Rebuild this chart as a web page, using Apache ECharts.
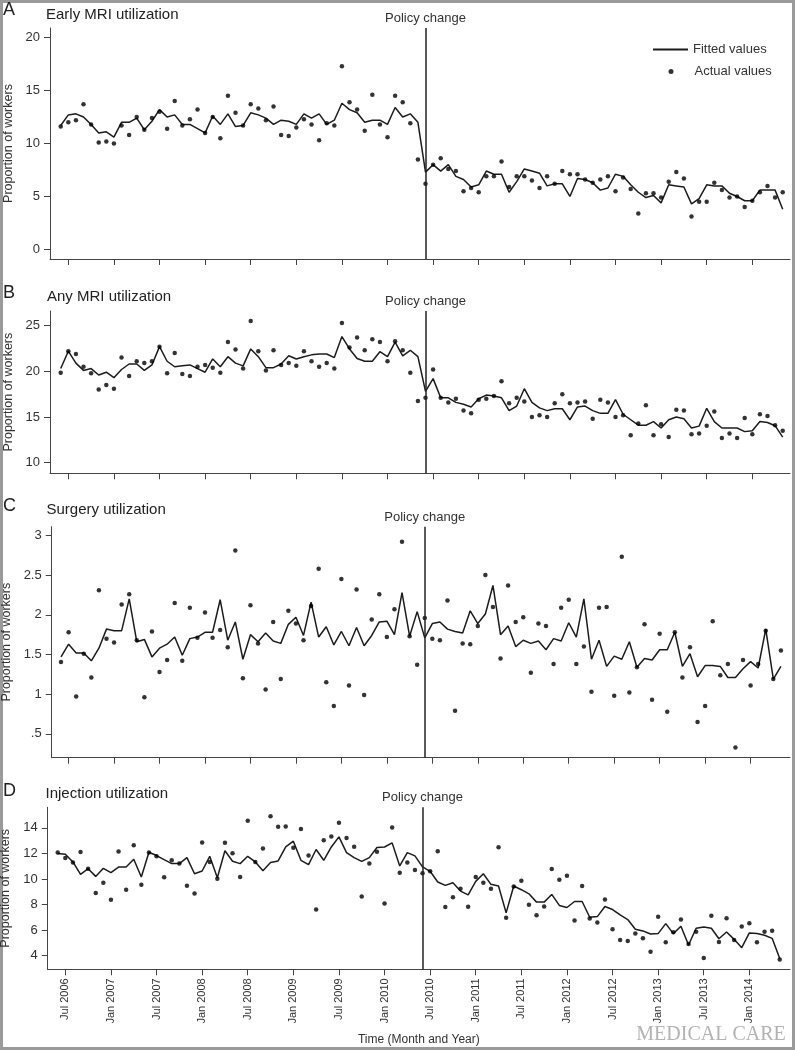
<!DOCTYPE html>
<html><head><meta charset="utf-8">
<script src="https://cdn.jsdelivr.net/npm/echarts@6/dist/echarts.min.js"></script>
<style>html,body{margin:0;padding:0;background:#fff}#c{width:795px;height:1050px}</style>
</head><body><div id="c"></div>
<script>
// Months (categories), index 0 = Jun 2006
const months = [
'Jun 2006','Jul 2006','Aug 2006','Sep 2006','Oct 2006','Nov 2006','Dec 2006',
'Jan 2007','Feb 2007','Mar 2007','Apr 2007','May 2007','Jun 2007','Jul 2007','Aug 2007','Sep 2007','Oct 2007','Nov 2007','Dec 2007',
'Jan 2008','Feb 2008','Mar 2008','Apr 2008','May 2008','Jun 2008','Jul 2008','Aug 2008','Sep 2008','Oct 2008','Nov 2008','Dec 2008',
'Jan 2009','Feb 2009','Mar 2009','Apr 2009','May 2009','Jun 2009','Jul 2009','Aug 2009','Sep 2009','Oct 2009','Nov 2009','Dec 2009',
'Jan 2010','Feb 2010','Mar 2010','Apr 2010','May 2010','Jun 2010','Jul 2010','Aug 2010','Sep 2010','Oct 2010','Nov 2010','Dec 2010',
'Jan 2011','Feb 2011','Mar 2011','Apr 2011','May 2011','Jun 2011','Jul 2011','Aug 2011','Sep 2011','Oct 2011','Nov 2011','Dec 2011',
'Jan 2012','Feb 2012','Mar 2012','Apr 2012','May 2012','Jun 2012','Jul 2012','Aug 2012','Sep 2012','Oct 2012','Nov 2012','Dec 2012',
'Jan 2013','Feb 2013','Mar 2013','Apr 2013','May 2013','Jun 2013','Jul 2013','Aug 2013','Sep 2013','Oct 2013','Nov 2013','Dec 2013',
'Jan 2014','Feb 2014','Mar 2014','Apr 2014','May 2014'];

const tickLabels = ['Jul 2006','Jan 2007','Jul 2007','Jan 2008','Jul 2008','Jan 2009','Jul 2009','Jan 2010',
'Jul 2010','Jan 2011','Jul 2011','Jan 2012','Jul 2012','Jan 2013','Jul 2013','Jan 2014'];
const policyMonth = 'Jun 2010';

// A: Early MRI utilization
const actA = [11.6,12.0,12.2,13.7,11.8,10.1,10.2,10.0,11.7,10.8,
12.5,11.3,12.4,13.0,11.4,14.0,11.7,12.3,13.2,11.0,
12.5,10.5,14.5,12.9,11.7,13.7,13.3,12.2,13.5,10.8,
10.7,11.5,12.3,11.8,10.3,11.9,11.7,17.3,13.9,13.2,
11.2,14.6,11.8,10.6,14.5,13.9,11.9,8.5,6.2,8.0,
8.6,7.6,7.4,5.5,5.8,5.4,6.9,6.9,8.3,5.9,
6.9,6.9,6.5,5.8,6.9,6.2,7.4,7.1,7.1,6.6,
6.3,6.6,6.9,5.5,6.8,5.7,3.4,5.3,5.3,4.9,
6.4,7.3,6.7,3.1,4.5,4.5,6.3,5.6,4.9,5.0,
4.0,4.6,5.4,6.0,4.9,5.4];
const fitA = [11.7,12.7,12.8,12.5,11.8,11.0,11.1,10.6,12.0,12.0,
12.4,11.3,12.1,13.2,12.5,12.7,11.8,11.8,11.4,11.0,
12.6,11.8,12.8,11.6,11.7,12.9,12.7,12.4,11.8,12.2,
12.1,11.8,12.8,12.4,12.8,11.8,12.2,13.8,13.2,12.9,
12.0,12.2,12.2,11.8,13.4,12.5,12.8,12.0,7.3,8.0,
7.4,8.0,6.9,6.6,5.9,6.1,7.4,7.1,7.1,5.4,
6.4,7.6,7.4,7.2,6.0,6.2,6.2,5.0,6.7,6.6,
6.3,5.6,5.8,7.1,6.9,6.1,5.4,4.9,5.1,4.4,
6.1,6.0,5.9,4.3,4.8,6.1,6.0,6.0,5.3,5.0,
4.6,4.6,5.6,5.6,5.6,3.8];

// B: Any MRI utilization
const actB = [19.85,22.2,21.9,20.5,19.8,18.0,18.5,18.1,21.5,19.5,
21.1,20.9,21.1,22.7,19.8,22.0,19.7,19.5,20.5,20.7,
20.4,19.85,23.2,22.4,20.3,25.5,22.2,20.1,22.3,20.7,
20.9,20.6,22.2,21.1,20.5,20.9,20.3,25.3,22.6,23.7,
22.3,23.5,23.2,21.1,23.3,22.3,19.85,16.75,17.1,20.2,
17.1,16.6,17.0,15.7,15.4,16.9,17.0,17.3,18.9,16.5,
17.1,16.7,15.0,15.2,15.0,16.5,17.5,16.5,16.6,16.7,
14.8,16.9,16.6,15.0,15.2,13.0,14.3,16.3,13.0,14.2,
12.8,15.8,15.7,13.1,13.2,14.05,15.6,12.7,13.2,12.7,
14.9,13.1,15.3,15.1,14.1,13.5];
const fitB = [20.3,22.2,20.9,20.1,20.3,19.6,19.9,19.3,20.2,20.8,
20.8,20.1,20.7,22.7,21.1,20.5,20.6,20.7,20.3,19.9,
21.35,20.5,21.6,20.9,20.6,22.45,21.6,20.4,20.4,20.8,
21.7,21.35,21.6,21.8,21.9,21.9,21.5,23.8,22.45,21.4,
21.1,21.1,22.15,21.6,23.2,21.7,22.3,21.6,17.8,19.2,
17.1,17.1,16.6,16.4,16.1,17.0,17.4,17.3,17.1,15.7,
16.2,18.1,16.6,16.0,15.7,15.9,15.9,14.7,16.1,16.2,
15.7,15.4,15.4,16.9,15.3,14.7,14.1,14.1,14.5,13.8,
14.7,15.0,14.8,13.8,14.0,15.95,14.5,13.8,13.8,13.8,
13.4,13.5,14.5,14.4,14.05,12.8];

// C: Surgery utilization
const actC = [1.405,1.78,0.97,1.51,1.21,2.31,1.70,1.65,2.13,2.26,
1.68,0.96,1.79,1.28,1.43,2.15,1.42,2.09,1.71,2.03,
1.71,1.81,1.59,2.81,1.20,2.12,1.64,1.06,1.91,1.19,
2.05,1.89,1.68,2.11,2.58,1.15,0.85,2.45,1.11,2.32,
0.99,1.94,2.26,1.72,2.07,2.92,1.73,1.37,1.96,1.70,
1.68,2.18,0.79,1.64,1.63,1.86,2.50,2.10,1.45,2.37,
1.91,1.97,1.27,1.89,1.86,1.38,2.09,2.19,1.38,1.60,
1.03,2.09,2.10,0.98,2.73,1.02,1.34,1.88,0.93,1.76,
0.78,1.78,1.21,1.59,0.65,0.85,1.92,1.24,1.38,0.33,
1.43,1.11,1.38,1.80,1.19,1.55];
const fitC = [1.47,1.63,1.52,1.52,1.42,1.58,1.82,1.80,1.80,2.20,
1.66,1.69,1.47,1.58,1.63,1.72,1.49,1.70,1.72,1.78,
1.78,2.19,1.68,1.91,1.44,1.75,1.66,1.77,1.67,1.64,
1.88,1.97,1.74,2.16,1.72,1.85,1.62,1.79,1.61,1.84,
1.61,1.74,1.91,1.92,1.75,2.28,1.73,2.04,1.71,1.89,
1.91,1.82,1.79,1.77,2.05,1.89,2.01,2.37,1.75,1.86,
1.60,1.68,1.64,1.67,1.56,1.70,1.67,1.90,1.72,2.20,
1.44,1.68,1.35,1.48,1.44,1.66,1.34,1.45,1.43,1.56,
1.56,1.78,1.35,1.51,1.22,1.36,1.36,1.35,1.21,1.21,
1.32,1.41,1.33,1.82,1.19,1.35];

// D: Injection utilization
const actD = [12.06,11.64,11.28,12.1,10.8,8.9,9.7,8.37,12.14,9.16,
12.64,9.55,12.06,11.77,10.13,11.46,11.2,9.47,8.87,12.85,
11.33,10.02,12.82,12.0,10.15,14.55,11.33,12.38,14.9,14.08,
14.1,12.43,13.9,11.83,7.61,13.03,13.32,14.39,13.21,12.51,
8.63,11.2,12.12,8.08,14.03,10.49,11.28,10.7,10.44,10.6,
12.17,7.8,8.58,9.24,7.82,10.15,9.71,9.24,12.48,6.96,
9.42,9.86,7.98,7.17,7.85,10.78,9.94,10.26,6.75,9.45,
6.91,6.59,8.4,6.07,5.23,5.15,5.73,5.36,4.31,7.04,
5.05,5.84,6.84,4.92,5.88,3.82,7.12,5.07,6.93,5.23,
6.28,6.54,5.05,5.88,5.96,3.71];
const fitD = [11.98,11.93,11.33,10.36,10.8,10.2,10.83,10.5,10.93,10.93,
11.54,10.15,12.09,11.83,11.51,11.2,11.2,11.67,10.41,10.62,
11.77,10.1,12.2,11.38,11.2,11.77,11.33,10.65,11.28,11.41,
12.5,12.95,11.46,11.12,12.3,11.46,12.5,13.29,12.06,11.67,
11.38,11.67,12.46,12.5,12.82,11.02,12.06,11.8,10.94,10.6,
9.76,9.5,9.71,9.05,8.76,9.81,10.41,9.58,9.45,7.35,
9.45,9.16,8.84,8.19,8.19,8.79,7.93,7.77,8.24,8.24,
7.01,7.06,7.85,7.61,7.19,6.83,6.07,5.94,5.7,5.73,
6.51,5.73,6.3,4.84,6.15,6.25,6.15,5.33,5.86,5.28,
4.63,5.78,5.73,5.6,5.36,3.79];

const yTicksA = [0,5,10,15,20];
const yTicksB = [10,15,20,25];
const yTicksC = [0.5,1,1.5,2,2.5,3];
const yTicksD = [4,6,8,10,12,14];

// ---------- layout ----------
const FONT = '"Liberation Sans", Arial, Helvetica, sans-serif';
const TXT = '#333';
const AX = '#444';
const tickPos = tickLabels.map(l => months.indexOf(l));
const policyIdx = months.indexOf(policyMonth);

const panels = [
  {letter:'A', title:'Early MRI utilization', fit:fitA, act:actA, yTicks:yTicksA, yMin:-0.9, yMax:20.9,
   grid:{left:50, top:28, width:740, height:231}, xMin:-1.41, xMax:95.96, letterY:10.5, titleY:14.5, titleX:46},
  {letter:'B', title:'Any MRI utilization', fit:fitB, act:actB, yTicks:yTicksB, yMin:8.84, yMax:26.6,
   grid:{left:50, top:311, width:740, height:162.3}, xMin:-1.41, xMax:95.96, letterY:293.5, titleY:296.5, titleX:47},
  {letter:'C', title:'Surgery utilization', fit:fitC, act:actC, yTicks:yTicksC, yMin:0.2, yMax:3.11,
   grid:{left:51.7, top:526.7, width:738.3, height:231}, xMin:-1.23, xMax:96.2, letterY:506, titleY:510, titleX:46.5},
  {letter:'D', title:'Injection utilization', fit:fitD, act:actD, yTicks:yTicksD, yMin:2.94, yMax:15.6,
   grid:{left:47.7, top:807.3, width:742.3, height:162}, xMin:-1.32, xMax:96.35, letterY:791.5, titleY:794, titleX:45.5}
];

const grids = [], xAxes = [], yAxes = [], series = [], graphics = [];
graphics.push({type:'rect', silent:true, shape:{x:1.5, y:1.5, width:792, height:1047},
  style:{fill:'none', stroke:'#9a9a9a', lineWidth:3}});

panels.forEach((p, k) => {
  grids.push(Object.assign({containLabel:false, outerBoundsMode:'none'}, p.grid));
  const last = k === panels.length - 1;
  xAxes.push({
    type:'value', gridIndex:k, min:p.xMin, max:p.xMax,
    axisLine:{show:true, onZero:false, lineStyle:{color:AX, width:1}},
    axisTick:{show:true, length:6, customValues:tickPos, lineStyle:{color:AX, width:1}},
    axisLabel:{show:last, customValues:tickPos, formatter:v => months[Math.round(v)],
      rotate:90, margin:9, fontSize:11, color:TXT, fontFamily:FONT},
    splitLine:{show:false},
    name: last ? 'Time (Month and Year)' : '', nameLocation:'middle', nameGap:64,
    nameTextStyle:{fontSize:12, color:TXT, fontFamily:FONT}
  });
  yAxes.push({
    type:'value', gridIndex:k, min:p.yMin, max:p.yMax,
    axisLine:{show:true, onZero:false, lineStyle:{color:AX, width:1}},
    axisTick:{show:true, length:6, customValues:p.yTicks, lineStyle:{color:AX, width:1}},
    axisLabel:{customValues:p.yTicks, margin:10, fontSize:13, color:TXT, fontFamily:FONT,
      formatter:v => (v > 0 && v < 1) ? String(v).replace(/^0/, '') : String(v)},
    splitLine:{show:false},
    name:'Proportion of workers', nameLocation:'middle', nameGap:31,
    nameTextStyle:{fontSize:12.5, color:TXT, fontFamily:FONT}
  });
  series.push({
    type:'line', name:'Fitted values', xAxisIndex:k, yAxisIndex:k,
    data:p.fit.map((v, i) => [i, v]), showSymbol:false, symbol:'none',
    lineStyle:{color:'#1c1c1c', width:1.5}, itemStyle:{color:'#1c1c1c'}, z:2,
    markLine:{silent:true, symbol:['none','none'], animation:false,
      lineStyle:{color:'#222', width:1.5, type:'solid'},
      label:{show:true, position:'end', formatter:'Policy change', distance:3,
        fontSize:13, color:TXT, fontFamily:FONT},
      emphasis:{disabled:true},
      data:[{xAxis:policyIdx}]}
  });
  series.push({
    type:'scatter', name:'Actual values', xAxisIndex:k, yAxisIndex:k,
    data:p.act.map((v, i) => [i, v]), symbolSize:4.5, itemStyle:{color:'#000'}, z:3
  });
  graphics.push({type:'text', x:3, y:p.letterY, silent:true,
    style:{text:p.letter, fontSize:18, fontFamily:FONT, fill:'#222', align:'left', verticalAlign:'middle'}});
  graphics.push({type:'text', x:p.titleX, y:p.titleY, silent:true,
    style:{text:p.title, fontSize:15, fontFamily:FONT, fill:'#222', align:'left', verticalAlign:'middle'}});
});

graphics.push({type:'text', x:711, y:1035, silent:true,
  style:{text:'MEDICAL CARE', fontSize:20, fontFamily:'"Liberation Serif", "DejaVu Serif", serif',
    fill:'#b3b3b3', align:'center', verticalAlign:'middle'}});

const chart = echarts.init(document.getElementById('c'), null, {renderer:'canvas'});
chart.setOption({
  animation:false,
  backgroundColor:'#fff',
  grid:grids, xAxis:xAxes, yAxis:yAxes, series:series,
  legend:[
    {selectedMode:false, left:653, top:43, padding:0, itemWidth:35, itemHeight:2, itemGap:0,
     data:[{name:'Fitted values', icon:'rect'}],
     textStyle:{fontSize:13, color:TXT, fontFamily:FONT}},
    {selectedMode:false, left:668.5, top:65, padding:0, itemWidth:37, itemHeight:5, itemGap:0,
     data:[{name:'Actual values', icon:'circle'}],
     textStyle:{fontSize:13, color:TXT, fontFamily:FONT}}
  ],
  graphic:graphics
});
</script>
</body></html>
